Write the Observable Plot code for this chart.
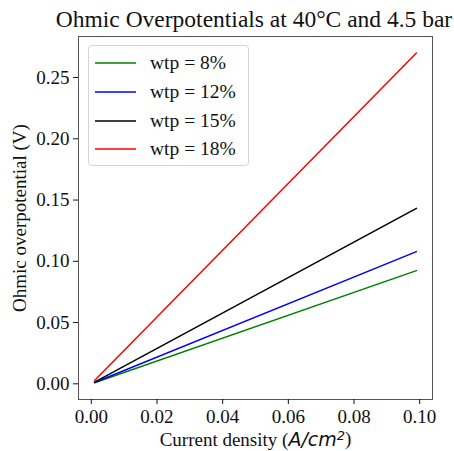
<!DOCTYPE html>
<html>
<head>
<meta charset="utf-8">
<script src="https://cdn.jsdelivr.net/npm/d3@7"></script>
<script src="https://cdn.jsdelivr.net/npm/@observablehq/plot@0.6"></script>
<style>
  body { margin: 0; background: #fff; }
  #wrap { position: relative; width: 454px; height: 451px; font-family: "Liberation Serif", serif; color: #111; }
  #title { height: 34px; width: 454px; box-sizing: border-box; padding-left: 54px; text-align: center; font-size: 23.5px; line-height: 34px; white-space: nowrap; padding-top: 2px; font-family: "Liberation Serif", serif; }
  #legend { position: absolute; left: 88px; top: 45px; width: 161px; height: 121px; box-sizing: border-box; border: 1px solid #d4d4d4; border-radius: 4px; background: rgba(255,255,255,0.85); padding-top: 3px; }
  .row { height: 28.7px; display: flex; align-items: center; font-size: 19.5px; font-family: "Liberation Serif", serif; }
  .sw { width: 41px; height: 4px; margin-left: 6px; margin-right: 14px; display: block; }
  svg text { font-family: "Liberation Serif", serif; }
</style>
</head>
<body>
<div id="wrap">
  <div id="title">Ohmic Overpotentials at 40°C and 4.5 bar</div>
  <div id="chart"></div>
  <div id="legend"></div>
</div>
<script>
const currentDensity = [0.001, 0.099];
const seriesNames = ["wtp = 8%", "wtp = 12%", "wtp = 15%", "wtp = 18%"];
const seriesColors = ["#008000", "#0000ff", "#000000", "#ff0000"];
const wtp8 = [0.0009, 0.0924];
const wtp12 = [0.0011, 0.1079];
const wtp15 = [0.0014, 0.1432];
const wtp18 = [0.0027, 0.2700];
const xTicks = [0.00, 0.02, 0.04, 0.06, 0.08, 0.10];
const yTicks = [0.00, 0.05, 0.10, 0.15, 0.20, 0.25];

const allSeries = [wtp8, wtp12, wtp15, wtp18];
const data = [];
allSeries.forEach((vals, i) => {
  vals.forEach((v, j) => data.push({x: currentDensity[j], y: v, s: seriesNames[i]}));
});

const serif = '"Liberation Serif", serif';
const chart = Plot.plot({
  width: 454,
  height: 417,
  marginTop: 2,
  marginBottom: 52,
  marginLeft: 78,
  marginRight: 22,
  style: {fontFamily: serif, fontSize: "19px", color: "#111", background: "transparent"},
  x: {domain: [-0.0039, 0.1039]},
  y: {domain: [-0.0128, 0.2835]},
  color: {domain: seriesNames, range: seriesColors},
  marks: [
    Plot.frame({stroke: "#555", strokeWidth: 1}),
    Plot.axisX({ticks: xTicks, tickFormat: d3.format(".2f"), tickSize: 5, tickPadding: 5, fontFamily: serif, label: "Current density (A/cm2)", labelAnchor: "center", labelOffset: 46, labelArrow: "none"}),
    Plot.axisY({ticks: yTicks, tickFormat: d3.format(".2f"), tickSize: 5, tickPadding: 4, fontFamily: serif, label: "Ohmic overpotential (V)", labelAnchor: "center", labelOffset: 66, labelArrow: "none"}),
    Plot.line(data, {x: "x", y: "y", z: "s", stroke: "s", strokeWidth: 1.5})
  ]
});
document.getElementById("chart").appendChild(chart);

// mixed-font x label
const ns = "http://www.w3.org/2000/svg";
const xl = chart.querySelector('[aria-label="x-axis label"] text');
if (xl) {
  xl.textContent = "";
  const parts = [
    {t: "Current density (", f: serif, s: null, i: false},
    {t: "A/cm", f: '"DejaVu Sans", sans-serif', s: null, i: true},
    {t: "2", f: '"DejaVu Sans", sans-serif', s: "sup", i: true},
    {t: ")", f: serif, s: "after", i: false}
  ];
  parts.forEach(p => {
    const ts = document.createElementNS(ns, "tspan");
    ts.textContent = p.t;
    ts.setAttribute("style", "font-family:" + p.f + (p.i ? ";font-style:italic" : "") + (p.s === "sup" ? ";font-size:13px" : ""));
    if (p.s === "sup") ts.setAttribute("dy", "-0.45em");
    if (p.s === "after") ts.setAttribute("dy", "0.3em");
    xl.appendChild(ts);
  });
}

// legend
const lg = document.getElementById("legend");
seriesNames.forEach((n, i) => {
  const row = document.createElement("div");
  row.className = "row";
  const sw = document.createElementNS(ns, "svg");
  sw.setAttribute("class", "sw");
  sw.setAttribute("width", "41");
  sw.setAttribute("height", "4");
  const ln = document.createElementNS(ns, "line");
  ln.setAttribute("x1", "0"); ln.setAttribute("x2", "41");
  ln.setAttribute("y1", "2"); ln.setAttribute("y2", "2");
  ln.setAttribute("stroke", seriesColors[i]);
  ln.setAttribute("stroke-width", "1.5");
  sw.appendChild(ln);
  const tx = document.createElement("span");
  tx.textContent = n;
  row.appendChild(sw);
  row.appendChild(tx);
  lg.appendChild(row);
});
</script>
</body>
</html>
